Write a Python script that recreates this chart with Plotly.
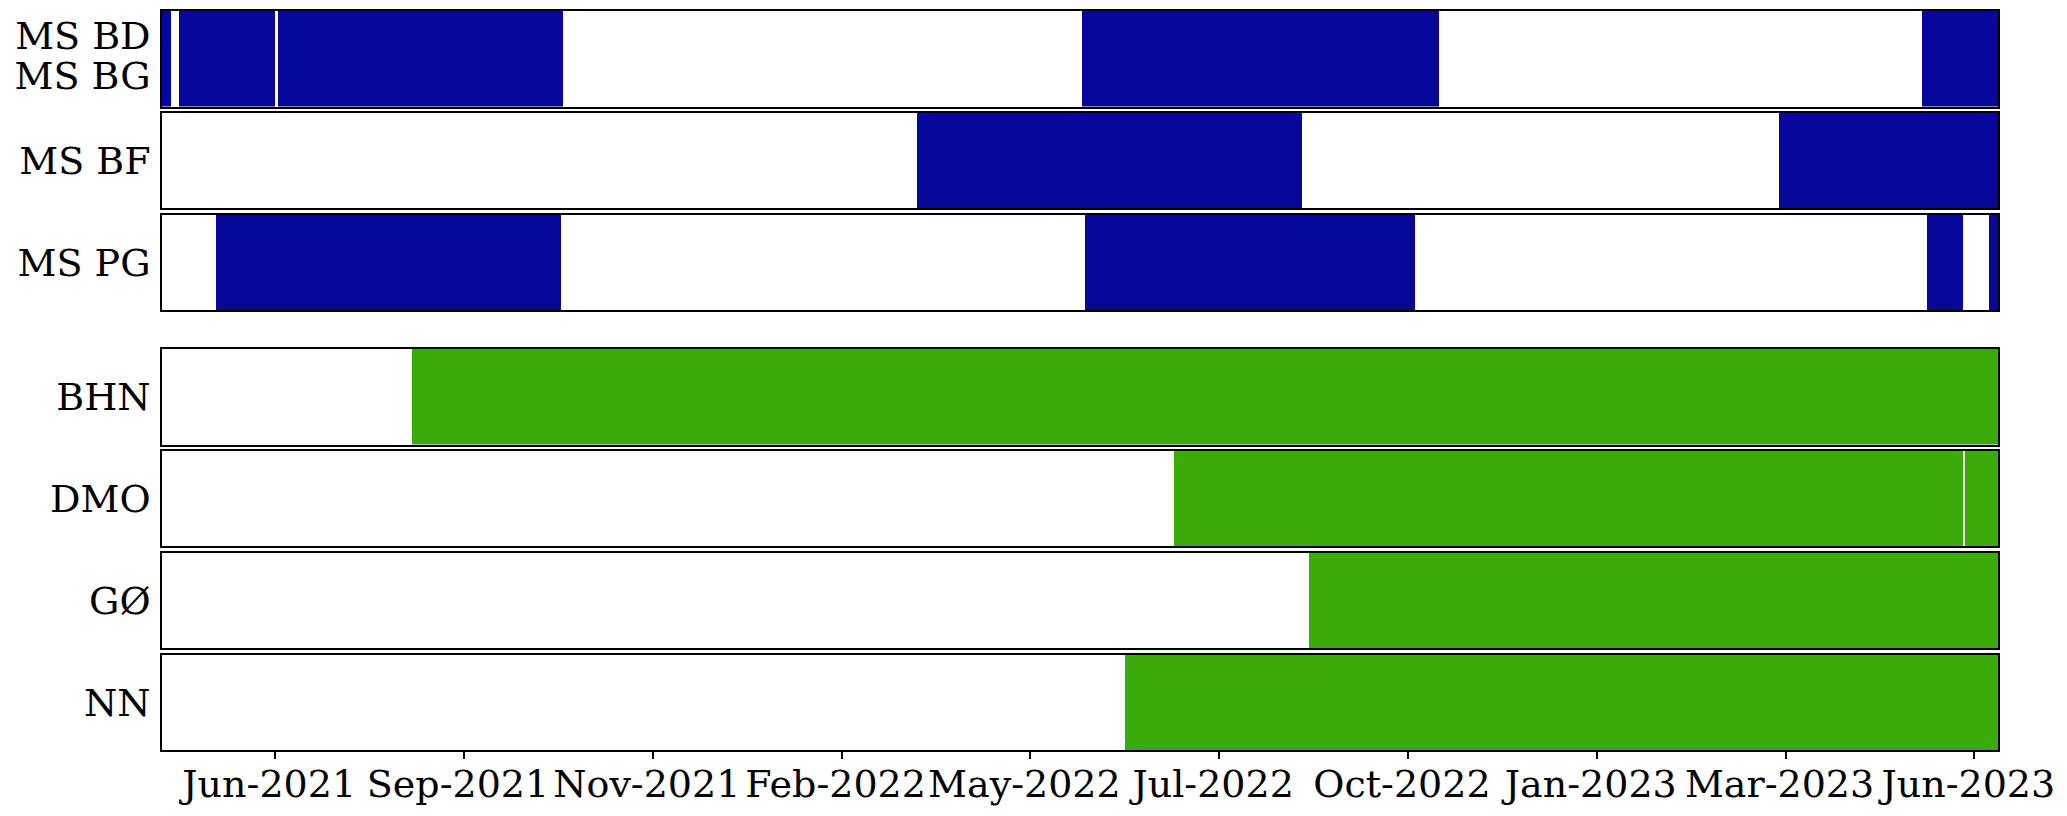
import pandas as pd
import plotly.graph_objects as go

# station labels, top to bottom
stations = ["MS BD\nMS BG", "MS BF", "MS PG", "BHN", "DMO", "GØ", "NN"]
station_color = ["#07079c", "#07079c", "#07079c", "#3aab09", "#3aab09", "#3aab09", "#3aab09"]

# periods with data for each station (start / end dates)
period_start = [
    ["2021-05-05", "2021-05-12", "2021-06-23", "2022-05-30", "2023-05-21"],
    ["2022-03-21", "2023-03-21"],
    ["2021-05-28", "2022-05-31", "2023-05-23", "2023-06-18"],
    ["2021-08-19"],
    ["2022-07-08", "2023-06-08"],
    ["2022-09-03"],
    ["2022-06-17"],
]
period_end = [
    ["2021-05-09", "2021-06-22", "2021-10-22", "2022-10-28", "2023-06-22"],
    ["2022-08-31", "2023-06-22"],
    ["2021-10-21", "2022-10-18", "2023-06-07", "2023-06-22"],
    ["2023-06-22"],
    ["2023-06-07", "2023-06-22"],
    ["2023-06-22"],
    ["2023-06-22"],
]

x_range = ["2021-05-05", "2023-06-22"]
tick_dates = pd.date_range("2021-06-22", periods=10, freq="80D")
tick_text = [d.strftime("%b-%Y") + "\u00a0" for d in tick_dates]

FONT = "DejaVu Serif"
FS = 38
# page body has an 8px margin, so the figure is shifted by 8px
W, H = 2067, 800
m_l, m_r, m_t, m_b = 154, 77.4, 3, 58
panel_h = 95.5
gap = 6.3
big_gap = 39

plot_h = H - m_t - m_b

fig = go.Figure()
layout = dict(
    width=W, height=H,
    margin=dict(l=m_l, r=m_r, t=m_t, b=m_b, autoexpand=False),
    paper_bgcolor="white", plot_bgcolor="white",
    font=dict(family=FONT, size=FS, color="black"),
    showlegend=False,
    bargap=0,
)

top = 0.0
n = len(stations)
for i in range(n):
    k = i + 1
    if i > 0:
        top += big_gap if i == 3 else gap
    y1 = min(1.0, 1 - top / plot_h)
    y0 = max(0.0, 1 - (top + panel_h) / plot_h)
    top += panel_h

    starts = pd.to_datetime(period_start[i])
    ends = pd.to_datetime(period_end[i])
    dur = [(e - s).total_seconds() * 1000 for s, e in zip(starts, ends)]
    fig.add_trace(go.Bar(
        orientation="h",
        y=[0.5] * len(dur),
        x=dur,
        base=[s.strftime("%Y-%m-%d") for s in starts],
        width=1,
        marker=dict(color=station_color[i], line=dict(width=0)),
        xaxis=f"x{k}", yaxis=f"y{k}",
        hoverinfo="skip",
    ))

    lines = stations[i].split("\n")
    if len(lines) == 1:
        yt = [0.5]
    else:
        yt = [0.74, 0.32]

    layout[f"xaxis{k}"] = dict(
        type="date", range=x_range, domain=[0, 1], anchor=f"y{k}",
        showline=True, mirror=True, linecolor="black", linewidth=1.7,
        showgrid=False, zeroline=False, automargin=False,
        tickvals=tick_dates, ticktext=tick_text, tickangle=0,
        ticks="outside" if k == n else "", ticklen=7, tickwidth=1.7, tickcolor="black",
        showticklabels=(k == n), ticklabelstandoff=-7,
        tickfont=dict(family=FONT, size=FS),
    )
    if k > 1:
        layout[f"xaxis{k}"]["matches"] = "x"
    layout[f"yaxis{k}"] = dict(
        domain=[y0, y1], range=[0, 1], anchor=f"x{k}",
        showline=True, mirror=True, linecolor="black", linewidth=1.7,
        showgrid=False, zeroline=False, automargin=False,
        tickvals=yt, ticktext=lines, ticks="",
        ticklabelstandoff=2,
        tickfont=dict(family=FONT, size=FS),
    )

fig.update_layout(**layout)
fig.write_html("out.html")
